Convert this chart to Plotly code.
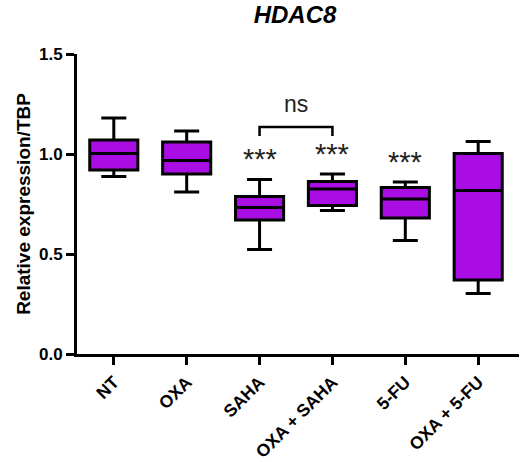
import plotly.graph_objects as go

categories = ["NT", "OXA", "SAHA", "OXA + SAHA", "5-FU", "OXA + 5-FU"]
lower_whisker = [0.887, 0.81, 0.523, 0.718, 0.567, 0.303]
q1 = [0.92, 0.90, 0.67, 0.743, 0.68, 0.37]
median = [1.003, 0.967, 0.732, 0.825, 0.775, 0.817]
q3 = [1.07, 1.06, 0.787, 0.862, 0.832, 1.003]
upper_whisker = [1.18, 1.115, 0.873, 0.90, 0.86, 1.062]

sig_categories = ["SAHA", "OXA + SAHA", "5-FU"]
sig_labels = ["***", "***", "***"]
sig_y = [0.975, 1.0, 0.96]

bracket_pair = ["SAHA", "OXA + SAHA"]
bracket_y = 1.135
bracket_drop = 0.045
bracket_label = "ns"
bracket_label_y = 1.25

purple = "#A90DE3"
font_family = "Arial, Liberation Sans, sans-serif"

fig = go.Figure()
fig.add_trace(go.Box(
    x=categories,
    q1=q1, median=median, q3=q3,
    lowerfence=lower_whisker, upperfence=upper_whisker,
    fillcolor=purple,
    line=dict(color="black", width=3),
    width=0.66,
    whiskerwidth=0.52,
    boxpoints=False,
    showlegend=False,
    hoverinfo="skip",
))

for c, lab, yy in zip(sig_categories, sig_labels, sig_y):
    fig.add_annotation(x=c, y=yy, xref="x", yref="y", text=lab, showarrow=False,
                       font=dict(family=font_family, size=29, color="#222222"),
                       yanchor="middle")

i0 = categories.index(bracket_pair[0])
i1 = categories.index(bracket_pair[1])
fig.add_shape(type="path",
              path=f"M {i0},{bracket_y - bracket_drop} L {i0},{bracket_y} L {i1},{bracket_y} L {i1},{bracket_y - bracket_drop}",
              xref="x", yref="y", line=dict(color="black", width=2.5))
fig.add_annotation(x=(i0 + i1) / 2, y=bracket_label_y, xref="x", yref="y", text=bracket_label,
                   showarrow=False, font=dict(family=font_family, size=23, color="#222222"),
                   yanchor="middle")

fig.update_layout(
    width=521, height=462,
    margin=dict(l=77, r=2, t=54, b=108),
    paper_bgcolor="white", plot_bgcolor="white",
    title=dict(text="HDAC8", x=257 / 521, xanchor="center", y=1 - 15 / 462, yanchor="middle",
               xref="paper", yref="container",
               font=dict(family=font_family, size=24, color="black", weight="bold", style="italic")),
    font=dict(family=font_family, color="black"),
)

fig.update_xaxes(
    type="category", categoryorder="array", categoryarray=categories,
    range=[-0.505, 5.56],
    showline=True, linecolor="black", linewidth=3,
    ticks="outside", ticklen=8, tickwidth=3, tickcolor="black",
    tickangle=-45,
    tickfont=dict(family=font_family, size=17.5, color="black", weight="bold"),
    showgrid=False, zeroline=False, automargin=False,
)
fig.update_yaxes(
    range=[0, 1.5],
    tickvals=[0, 0.5, 1.0, 1.5], ticktext=["0.0", "0.5", "1.0", "1.5"],
    showline=True, linecolor="black", linewidth=3,
    ticks="outside", ticklen=8, tickwidth=3, tickcolor="black",
    tickfont=dict(family=font_family, size=17, color="black", weight="bold"),
    title=dict(text="Relative expression/TBP", standoff=4,
               font=dict(family=font_family, size=19, color="black", weight="bold")),
    showgrid=False, zeroline=False, automargin=False,
)

fig.write_html(
    "out.html",
    config={"displayModeBar": False},
    post_script="document.body.style.margin='0';document.body.style.padding='0';document.body.style.overflow='hidden';",
)
